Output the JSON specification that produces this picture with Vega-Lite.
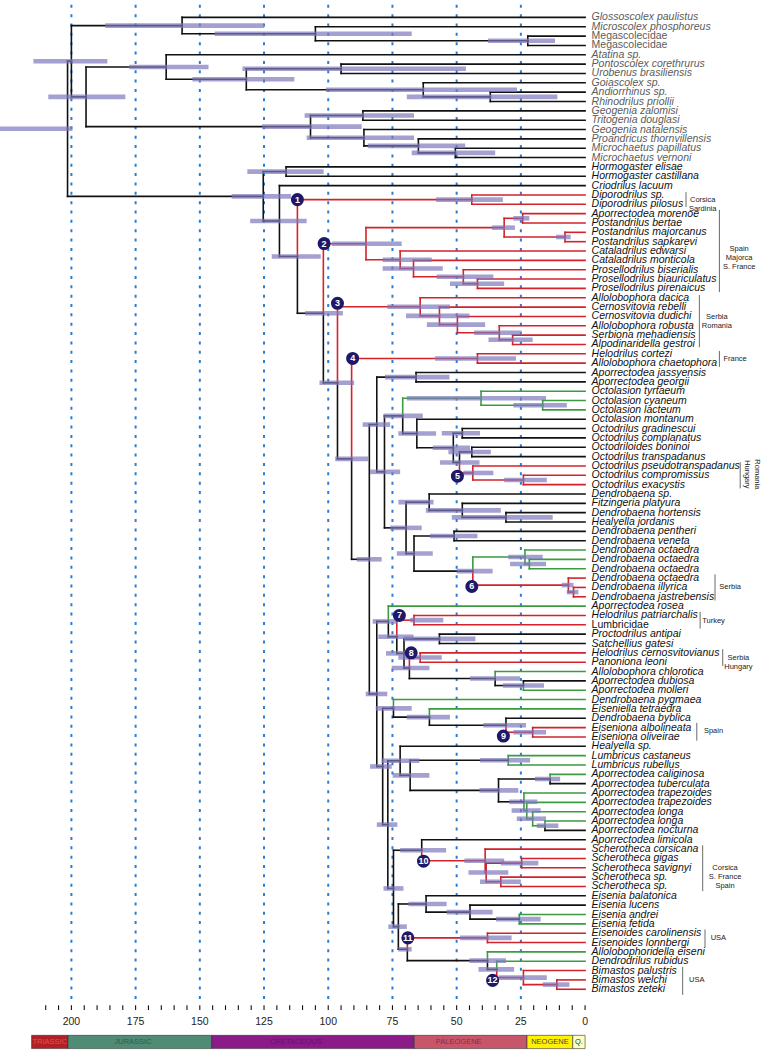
{
"$schema": "https://vega.github.io/schema/vega-lite/v6.json",
"width": 761, "height": 1050,
"autosize": {"type": "none"},
"padding": 0,
"background": "#ffffff",
"config": {"view": {"stroke": null}, "text": {"font": "Liberation Sans"}},
"resolve": {"scale": {"color": "independent"}},
"datasets": {
"tree": [
{"n":"R","t":201.5,"y":12.92,"lo":228,"hi":199.6},
{"n":"U","p":"R","t":200,"y":5.6875,"c":"k","lo":214.8,"hi":186},
{"n":"A","p":"U","t":156.9,"y":1.875,"c":"k","lo":186.8,"hi":124.9},
{"n":"B","p":"A","t":105,"y":2.75,"c":"k","lo":144.2,"hi":67.5},
{"n":"C","p":"B","t":22.3,"y":3.5,"c":"k","lo":37.8,"hi":11.7},
{"n":"V","p":"U","t":194.3,"y":9.5,"c":"k","lo":209,"hi":179},
{"n":"W","p":"V","t":163.1,"y":6.3125,"c":"k","lo":177.5,"hi":146.6},
{"n":"X1","p":"W","t":131.9,"y":7.625,"c":"k","lo":152.9,"hi":113.2},
{"n":"PU","p":"X1","t":95,"y":6.5,"c":"k","lo":133.4,"hi":46.4},
{"n":"GO","p":"X1","t":63,"y":8.75,"c":"k","lo":100.9,"hi":26.5},
{"n":"AR","p":"GO","t":36.9,"y":9.5,"c":"k","lo":69.4,"hi":10.8},
{"n":"G","p":"V","t":106.9,"y":12.6875,"c":"k","lo":125.8,"hi":87},
{"n":"G1","p":"G","t":86.5,"y":11.5,"c":"k","lo":109.2,"hi":66.6},
{"n":"G2","p":"G","t":86.1,"y":13.875,"c":"k","lo":108.4,"hi":66.6},
{"n":"G3","p":"G2","t":64.9,"y":14.75,"c":"k","lo":84.6,"hi":46.7},
{"n":"G4","p":"G3","t":50.5,"y":15.5,"c":"k","lo":67.5,"hi":35},
{"n":"H0","p":"R","t":125.3,"y":20.15,"c":"k","lo":137.6,"hi":114.5},
{"n":"HG","p":"H0","t":116.4,"y":17.5,"c":"k","lo":131.5,"hi":101.8},
{"n":"I0","p":"H0","t":119,"y":22.79,"c":"k","lo":130.4,"hi":108.4},
{"n":"I1","p":"I0","t":112,"y":26.58,"c":"k","lo":122,"hi":102.9},
{"n":"D1n","p":"I1","t":44.1,"y":20.5,"c":"r","lo":58,"hi":32},
{"n":"I2","p":"I1","t":101.9,"y":32.66,"c":"k","lo":109,"hi":94.3},
{"n":"C2","p":"I2","t":85.3,"y":25.22,"c":"r","lo":98.6,"hi":71.4},
{"n":"P0","p":"C2","t":31.5,"y":23.5,"c":"r","lo":36.3,"hi":27.3},
{"n":"P01","p":"P0","t":24.3,"y":22.5,"c":"r","lo":27.9,"hi":21.7},
{"n":"P02","p":"P0","t":7.8,"y":24.5,"c":"r","lo":11.3,"hi":5.6},
{"n":"CP","p":"C2","t":72,"y":26.94,"c":"r","lo":78.8,"hi":59.7},
{"n":"CP2","p":"CP","t":66.8,"y":27.875,"c":"r","lo":78.8,"hi":55.4},
{"n":"PR","p":"CP2","t":47.4,"y":28.75,"c":"r","lo":57.8,"hi":35.7},
{"n":"PR2","p":"PR","t":41.9,"y":29.5,"c":"r","lo":52.6,"hi":31.5},
{"n":"I3","p":"I2","t":96.4,"y":40.1,"c":"k","lo":103.4,"hi":89.9},
{"n":"C3","p":"I3","t":64.2,"y":31.97,"c":"r","lo":77,"hi":52.6},
{"n":"C3a","p":"C3","t":56.7,"y":32.94,"c":"r","lo":69.7,"hi":45},
{"n":"C3b","p":"C3a","t":49.7,"y":33.875,"c":"r","lo":61.6,"hi":38.9},
{"n":"C3c","p":"C3b","t":33.4,"y":34.75,"c":"r","lo":43.2,"hi":24.7},
{"n":"C3d","p":"C3c","t":28.2,"y":35.5,"c":"r","lo":37.6,"hi":20.4},
{"n":"I4","p":"I3","t":90.9,"y":48.24,"c":"k","lo":97.3,"hi":84.4},
{"n":"C4","p":"I4","t":41.9,"y":37.5,"c":"r","lo":58.4,"hi":26.9},
{"n":"I5","p":"I4","t":84,"y":58.99,"c":"k","lo":88.9,"hi":79.2},
{"n":"K1","p":"I5","t":81.1,"y":44.57,"c":"k","lo":86.6,"hi":75.9},
{"n":"J","p":"K1","t":65.8,"y":39.5,"c":"k","lo":77.9,"hi":52.8},
{"n":"N0","p":"K1","t":78.1,"y":49.63,"c":"k","lo":83.7,"hi":72},
{"n":"M1","p":"N0","t":71,"y":43.64,"c":"k","lo":78.5,"hi":63.2},
{"n":"OT","p":"M1","t":40.5,"y":41.75,"c":"g","lo":69.4,"hi":15.2},
{"n":"OT2","p":"OT","t":16.5,"y":42.5,"c":"g","lo":27.9,"hi":7.1},
{"n":"M2","p":"M1","t":65.5,"y":45.53,"c":"k","lo":72.7,"hi":58},
{"n":"M3","p":"M2","t":51.3,"y":47.06,"c":"k","lo":59.3,"hi":44.8},
{"n":"OG","p":"M3","t":47.8,"y":45.5,"c":"k","lo":55.8,"hi":40.9},
{"n":"M4","p":"M3","t":48.9,"y":48.625,"c":"k","lo":56.5,"hi":41.1},
{"n":"P1","p":"M4","t":44.1,"y":47.5,"c":"k","lo":53.2,"hi":36.7},
{"n":"R5","p":"M4","t":43.7,"y":49.75,"c":"r","lo":47.4,"hi":35.7},
{"n":"R5b","p":"R5","t":24,"y":50.5,"c":"r","lo":31.5,"hi":14.9},
{"n":"N1","p":"N0","t":69.7,"y":55.625,"c":"k","lo":75.9,"hi":63.6},
{"n":"D1","p":"N1","t":60.7,"y":52.875,"c":"k","lo":72.7,"hi":59},
{"n":"DF","p":"D1","t":47.8,"y":53.75,"c":"k","lo":62,"hi":32.8},
{"n":"DH","p":"DF","t":30.8,"y":54.5,"c":"k","lo":51.9,"hi":12.6},
{"n":"D2","p":"N1","t":66.6,"y":58.375,"c":"k","lo":73.3,"hi":59.3},
{"n":"DP","p":"D2","t":51,"y":56.5,"c":"k","lo":60.4,"hi":41.9},
{"n":"O","p":"D2","t":43.7,"y":60.25,"c":"k","lo":50,"hi":36},
{"n":"O8","p":"O","t":23.4,"y":58.75,"c":"g","lo":29.9,"hi":16.5},
{"n":"O8b","p":"O8","t":21.7,"y":59.5,"c":"g","lo":29.2,"hi":15.2},
{"n":"C6","p":"O","t":6.5,"y":61.75,"c":"r","lo":9.1,"hi":4.5},
{"n":"C6b","p":"C6","t":4.5,"y":62.5,"c":"r","lo":7.1,"hi":2.6},
{"n":"V1","p":"I5","t":81.1,"y":73.4,"c":"k","lo":85.4,"hi":77},
{"n":"Q1","p":"V1","t":76.6,"y":65.64,"c":"k","lo":82.7,"hi":73.3},
{"n":"Q2","p":"Q1","t":73.3,"y":67.28,"c":"k","lo":80.5,"hi":66.8},
{"n":"C7","p":"Q2","t":66.6,"y":65.5,"c":"r","lo":68.1,"hi":55.2},
{"n":"N462","p":"Q2","t":70.5,"y":69.06,"c":"k","lo":77.5,"hi":66.8},
{"n":"PS","p":"N462","t":56.7,"y":67.5,"c":"k","lo":70.7,"hi":42.7},
{"n":"C8","p":"N462","t":68.4,"y":70.625,"c":"k","lo":75.3,"hi":60.6},
{"n":"C8n","p":"C8","t":64.2,"y":69.5,"c":"r","lo":72.7,"hi":55.8},
{"n":"CH","p":"C8","t":35,"y":71.75,"c":"k","lo":44.8,"hi":25.3},
{"n":"DM","p":"CH","t":24,"y":72.5,"c":"k","lo":32,"hi":16},
{"n":"V2","p":"V1","t":78.8,"y":81.16,"c":"k","lo":83.7,"hi":75.3},
{"n":"S1","p":"V2","t":74.6,"y":74.94,"c":"k","lo":81.5,"hi":67.5},
{"n":"S2","p":"S1","t":60.6,"y":75.875,"c":"k","lo":69.4,"hi":52.6},
{"n":"S3","p":"S2","t":30.8,"y":76.75,"c":"k","lo":39.6,"hi":23},
{"n":"C9","p":"S3","t":20.4,"y":77.5,"c":"r","lo":27.9,"hi":15.2},
{"n":"V3","p":"V2","t":76.8,"y":87.38,"c":"k","lo":81.1,"hi":73.1},
{"n":"U1","p":"V3","t":72,"y":80.55,"c":"k","lo":79.2,"hi":64.5},
{"n":"U2","p":"U1","t":68.1,"y":82.11,"c":"k","lo":74.9,"hi":60.6},
{"n":"LU","p":"U2","t":29.9,"y":80.5,"c":"k","lo":40.9,"hi":21.4},
{"n":"Z0","p":"U2","t":33.7,"y":83.72,"c":"k","lo":41.1,"hi":26},
{"n":"CA","p":"Z0","t":13.6,"y":82.5,"c":"k","lo":19.5,"hi":9.7},
{"n":"Z1","p":"Z0","t":23.8,"y":84.94,"c":"k","lo":29.5,"hi":18.6},
{"n":"Z2","p":"Z1","t":22.7,"y":85.875,"c":"g","lo":28.6,"hi":17.3},
{"n":"Z3","p":"Z2","t":20.4,"y":86.75,"c":"g","lo":26.6,"hi":15.2},
{"n":"Z4","p":"Z3","t":15.6,"y":87.5,"c":"g","lo":18.8,"hi":10.4},
{"n":"V4","p":"V3","t":74.6,"y":94.21,"c":"k","lo":78.5,"hi":70.7},
{"n":"L","p":"V4","t":63.6,"y":90.125,"c":"k","lo":72,"hi":54.1},
{"n":"SC1","p":"L","t":38.9,"y":91.25,"c":"r","lo":47,"hi":31.5},
{"n":"SC2","p":"SC1","t":38.5,"y":92.5,"c":"r","lo":45.4,"hi":29.9},
{"n":"SCa","p":"SC2","t":24.7,"y":91.5,"c":"r","lo":32.8,"hi":18.2},
{"n":"SCb","p":"SC2","t":32.8,"y":93.5,"c":"r","lo":40.9,"hi":25},
{"n":"E0","p":"V4","t":72.7,"y":98.3,"c":"k","lo":76.6,"hi":69.4},
{"n":"E1","p":"E0","t":61.9,"y":95.875,"c":"k","lo":68.8,"hi":53.9},
{"n":"E2","p":"E1","t":44.8,"y":96.75,"c":"k","lo":53.9,"hi":36},
{"n":"EAF","p":"E2","t":25.6,"y":97.5,"c":"k","lo":34.7,"hi":17.3},
{"n":"F0","p":"E0","t":69.2,"y":100.72,"c":"k","lo":72.7,"hi":67.5},
{"n":"C11","p":"F0","t":38,"y":99.5,"c":"r","lo":48.7,"hi":28.6},
{"n":"F1","p":"F0","t":38,"y":101.94,"c":"k","lo":45,"hi":30.8},
{"n":"F2","p":"F1","t":34.4,"y":102.875,"c":"k","lo":41.5,"hi":27.6},
{"n":"B1","p":"F2","t":24,"y":103.75,"c":"r","lo":33.7,"hi":14.9},
{"n":"B2","p":"B1","t":11,"y":104.5,"c":"r","lo":16.5,"hi":6.1},
{"n":"t1","p":"A","t":0,"y":1,"c":"k","lab":"Glossoscolex paulistus","s":"gi"},
{"n":"t2","p":"B","t":0,"y":2,"c":"k","lab":"Microscolex phosphoreus","s":"gi"},
{"n":"t3","p":"C","t":0,"y":3,"c":"k","lab":"Megascolecidae","s":"gn"},
{"n":"t4","p":"C","t":0,"y":4,"c":"k","lab":"Megascolecidae","s":"gn"},
{"n":"t5","p":"W","t":0,"y":5,"c":"k","lab":"Atatina sp.","s":"gi"},
{"n":"t6","p":"PU","t":0,"y":6,"c":"k","lab":"Pontoscolex corethrurus","s":"gi"},
{"n":"t7","p":"PU","t":0,"y":7,"c":"k","lab":"Urobenus brasiliensis","s":"gi"},
{"n":"t8","p":"GO","t":0,"y":8,"c":"k","lab":"Goiascolex sp.","s":"gi"},
{"n":"t9","p":"AR","t":0,"y":9,"c":"k","lab":"Andiorrhinus sp.","s":"gi"},
{"n":"t10","p":"AR","t":0,"y":10,"c":"k","lab":"Rhinodrilus priollii","s":"gi"},
{"n":"t11","p":"G1","t":0,"y":11,"c":"k","lab":"Geogenia zalomisi","s":"gi"},
{"n":"t12","p":"G1","t":0,"y":12,"c":"k","lab":"Tritogenia douglasi","s":"gi"},
{"n":"t13","p":"G2","t":0,"y":13,"c":"k","lab":"Geogenia natalensis","s":"gi"},
{"n":"t14","p":"G3","t":0,"y":14,"c":"k","lab":"Proandricus thornvillensis","s":"gi"},
{"n":"t15","p":"G4","t":0,"y":15,"c":"k","lab":"Microchaetus papillatus","s":"gi"},
{"n":"t16","p":"G4","t":0,"y":16,"c":"k","lab":"Microchaetus vernoni","s":"gi"},
{"n":"t17","p":"HG","t":0,"y":17,"c":"k","lab":"Hormogaster elisae","s":"i"},
{"n":"t18","p":"HG","t":0,"y":18,"c":"k","lab":"Hormogaster castillana","s":"i"},
{"n":"t19","p":"I0","t":0,"y":19,"c":"k","lab":"Criodrilus lacuum","s":"i"},
{"n":"t20","p":"D1n","t":0,"y":20,"c":"r","lab":"Diporodrilus sp.","s":"i"},
{"n":"t21","p":"D1n","t":0,"y":21,"c":"r","lab":"Diporodrilus pilosus","s":"i"},
{"n":"t22","p":"P01","t":0,"y":22,"c":"r","lab":"Aporrectodea morenoe","s":"i"},
{"n":"t23","p":"P01","t":0,"y":23,"c":"r","lab":"Postandrilus bertae","s":"i"},
{"n":"t24","p":"P02","t":0,"y":24,"c":"r","lab":"Postandrilus majorcanus","s":"i"},
{"n":"t25","p":"P02","t":0,"y":25,"c":"r","lab":"Postandrilus sapkarevi","s":"i"},
{"n":"t26","p":"CP","t":0,"y":26,"c":"r","lab":"Cataladrilus edwarsi","s":"i"},
{"n":"t27","p":"CP2","t":0,"y":27,"c":"r","lab":"Cataladrilus monticola","s":"i"},
{"n":"t28","p":"PR","t":0,"y":28,"c":"r","lab":"Prosellodrilus biserialis","s":"i"},
{"n":"t29","p":"PR2","t":0,"y":29,"c":"r","lab":"Prosellodrilus biauriculatus","s":"i"},
{"n":"t30","p":"PR2","t":0,"y":30,"c":"r","lab":"Prosellodrilus pirenaicus","s":"i"},
{"n":"t31","p":"C3","t":0,"y":31,"c":"r","lab":"Allolobophora dacica","s":"i"},
{"n":"t32","p":"C3a","t":0,"y":32,"c":"r","lab":"Cernosvitovia rebelli","s":"i"},
{"n":"t33","p":"C3b","t":0,"y":33,"c":"r","lab":"Cernosvitovia dudichi","s":"i"},
{"n":"t34","p":"C3c","t":0,"y":34,"c":"r","lab":"Allolobophora robusta","s":"i"},
{"n":"t35","p":"C3d","t":0,"y":35,"c":"r","lab":"Serbiona mehadiensis","s":"i"},
{"n":"t36","p":"C3d","t":0,"y":36,"c":"r","lab":"Alpodinaridella gestroi","s":"i"},
{"n":"t37","p":"C4","t":0,"y":37,"c":"r","lab":"Helodrilus cortezi","s":"i"},
{"n":"t38","p":"C4","t":0,"y":38,"c":"r","lab":"Allolobophora chaetophora","s":"i"},
{"n":"t39","p":"J","t":0,"y":39,"c":"k","lab":"Aporrectodea jassyensis","s":"i"},
{"n":"t40","p":"J","t":0,"y":40,"c":"k","lab":"Aporrectodea georgii","s":"i"},
{"n":"t41","p":"OT","t":0,"y":41,"c":"g","lab":"Octolasion tyrtaeum","s":"i"},
{"n":"t42","p":"OT2","t":0,"y":42,"c":"g","lab":"Octolasion cyaneum","s":"i"},
{"n":"t43","p":"OT2","t":0,"y":43,"c":"g","lab":"Octolasion lacteum","s":"i"},
{"n":"t44","p":"M2","t":0,"y":44,"c":"k","lab":"Octolasion montanum","s":"i"},
{"n":"t45","p":"OG","t":0,"y":45,"c":"k","lab":"Octodrilus gradinescui","s":"i"},
{"n":"t46","p":"OG","t":0,"y":46,"c":"k","lab":"Octodrilus complanatus","s":"i"},
{"n":"t47","p":"P1","t":0,"y":47,"c":"k","lab":"Octodriloides boninoi","s":"i"},
{"n":"t48","p":"P1","t":0,"y":48,"c":"k","lab":"Octodrilus transpadanus","s":"i"},
{"n":"t49","p":"R5","t":0,"y":49,"c":"r","lab":"Octodrilus pseudotranspadanus","s":"i"},
{"n":"t50","p":"R5b","t":0,"y":50,"c":"r","lab":"Octodrilus compromissus","s":"i"},
{"n":"t51","p":"R5b","t":0,"y":51,"c":"r","lab":"Octodrilus exacystis","s":"i"},
{"n":"t52","p":"D1","t":0,"y":52,"c":"k","lab":"Dendrobaena sp.","s":"i"},
{"n":"t53","p":"DF","t":0,"y":53,"c":"k","lab":"Fitzingeria platyura","s":"i"},
{"n":"t54","p":"DH","t":0,"y":54,"c":"k","lab":"Dendrobaena hortensis","s":"i"},
{"n":"t55","p":"DH","t":0,"y":55,"c":"k","lab":"Healyella jordanis","s":"i"},
{"n":"t56","p":"DP","t":0,"y":56,"c":"k","lab":"Dendrobaena pentheri","s":"i"},
{"n":"t57","p":"DP","t":0,"y":57,"c":"k","lab":"Dendrobaena veneta","s":"i"},
{"n":"t58","p":"O8","t":0,"y":58,"c":"g","lab":"Dendrobaena octaedra","s":"i"},
{"n":"t59","p":"O8b","t":0,"y":59,"c":"g","lab":"Dendrobaena octaedra","s":"i"},
{"n":"t60","p":"O8b","t":0,"y":60,"c":"g","lab":"Dendrobaena octaedra","s":"i"},
{"n":"t61","p":"C6","t":0,"y":61,"c":"r","lab":"Dendrobaena octaedra","s":"i"},
{"n":"t62","p":"C6b","t":0,"y":62,"c":"r","lab":"Dendrobaena illyrica","s":"i"},
{"n":"t63","p":"C6b","t":0,"y":63,"c":"r","lab":"Dendrobaena jastrebensis","s":"i"},
{"n":"t64","p":"Q1","t":0,"y":64,"c":"g","lab":"Aporrectodea rosea","s":"i"},
{"n":"t65","p":"C7","t":0,"y":65,"c":"r","lab":"Helodrilus patriarchalis","s":"i"},
{"n":"t66","p":"C7","t":0,"y":66,"c":"r","lab":"Lumbricidae","s":"n"},
{"n":"t67","p":"PS","t":0,"y":67,"c":"k","lab":"Proctodrilus antipai","s":"i"},
{"n":"t68","p":"PS","t":0,"y":68,"c":"k","lab":"Satchellius gatesi","s":"i"},
{"n":"t69","p":"C8n","t":0,"y":69,"c":"r","lab":"Helodrilus cernosvitovianus","s":"i"},
{"n":"t70","p":"C8n","t":0,"y":70,"c":"r","lab":"Panoniona leoni","s":"i"},
{"n":"t71","p":"CH","t":0,"y":71,"c":"g","lab":"Allolobophora chlorotica","s":"i"},
{"n":"t72","p":"DM","t":0,"y":72,"c":"k","lab":"Aporrectodea dubiosa","s":"i"},
{"n":"t73","p":"DM","t":0,"y":73,"c":"g","lab":"Aporrectodea molleri","s":"i"},
{"n":"t74","p":"S1","t":0,"y":74,"c":"g","lab":"Dendrobaena pygmaea","s":"i"},
{"n":"t75","p":"S2","t":0,"y":75,"c":"g","lab":"Eiseniella tetraedra","s":"i"},
{"n":"t76","p":"S3","t":0,"y":76,"c":"k","lab":"Dendrobaena byblica","s":"i"},
{"n":"t77","p":"C9","t":0,"y":77,"c":"r","lab":"Eiseniona albolineata","s":"i"},
{"n":"t78","p":"C9","t":0,"y":78,"c":"r","lab":"Eiseniona oliveirae","s":"i"},
{"n":"t79","p":"U1","t":0,"y":79,"c":"k","lab":"Healyella sp.","s":"i"},
{"n":"t80","p":"LU","t":0,"y":80,"c":"g","lab":"Lumbricus castaneus","s":"i"},
{"n":"t81","p":"LU","t":0,"y":81,"c":"g","lab":"Lumbricus rubellus","s":"i"},
{"n":"t82","p":"CA","t":0,"y":82,"c":"g","lab":"Aporrectodea caliginosa","s":"i"},
{"n":"t83","p":"CA","t":0,"y":83,"c":"k","lab":"Aporrectodea tuberculata","s":"i"},
{"n":"t84","p":"Z1","t":0,"y":84,"c":"g","lab":"Aporrectodea trapezoides","s":"i"},
{"n":"t85","p":"Z2","t":0,"y":85,"c":"g","lab":"Aporrectodea trapezoides","s":"i"},
{"n":"t86","p":"Z3","t":0,"y":86,"c":"g","lab":"Aporrectodea longa","s":"i"},
{"n":"t87","p":"Z4","t":0,"y":87,"c":"g","lab":"Aporrectodea longa","s":"i"},
{"n":"t88","p":"Z4","t":0,"y":88,"c":"k","lab":"Aporrectodea nocturna","s":"i"},
{"n":"t89","p":"L","t":0,"y":89,"c":"k","lab":"Aporrectodea limicola","s":"i"},
{"n":"t90","p":"SC1","t":0,"y":90,"c":"r","lab":"Scherotheca corsicana","s":"i"},
{"n":"t91","p":"SCa","t":0,"y":91,"c":"r","lab":"Scherotheca gigas","s":"i"},
{"n":"t92","p":"SCa","t":0,"y":92,"c":"r","lab":"Scherotheca savignyi","s":"i"},
{"n":"t93","p":"SCb","t":0,"y":93,"c":"r","lab":"Scherotheca sp.","s":"i"},
{"n":"t94","p":"SCb","t":0,"y":94,"c":"r","lab":"Scherotheca sp.","s":"i"},
{"n":"t95","p":"E1","t":0,"y":95,"c":"k","lab":"Eisenia balatonica","s":"i"},
{"n":"t96","p":"E2","t":0,"y":96,"c":"k","lab":"Eisenia lucens","s":"i"},
{"n":"t97","p":"EAF","t":0,"y":97,"c":"g","lab":"Eisenia andrei","s":"i"},
{"n":"t98","p":"EAF","t":0,"y":98,"c":"g","lab":"Eisenia fetida","s":"i"},
{"n":"t99","p":"C11","t":0,"y":99,"c":"r","lab":"Eisenoides carolinensis","s":"i"},
{"n":"t100","p":"C11","t":0,"y":100,"c":"r","lab":"Eisenoides lonnbergi","s":"i"},
{"n":"t101","p":"F1","t":0,"y":101,"c":"g","lab":"Allolobophoridella eiseni","s":"i"},
{"n":"t102","p":"F2","t":0,"y":102,"c":"g","lab":"Dendrodrilus rubidus","s":"i"},
{"n":"t103","p":"B1","t":0,"y":103,"c":"r","lab":"Bimastos palustris","s":"i"},
{"n":"t104","p":"B2","t":0,"y":104,"c":"r","lab":"Bimastos welchi","s":"i"},
{"n":"t105","p":"B2","t":0,"y":105,"c":"r","lab":"Bimastos zeteki","s":"i"}
],
"circles": [
{"num":"1","t":112,"k":20.5},{"num":"2","t":101.6,"k":25.2},{"num":"3","t":96.4,"k":31.6},
{"num":"4","t":90.5,"k":37.5},{"num":"5","t":49.7,"k":50.1},{"num":"6","t":44.1,"k":61.9},
{"num":"7","t":72.3,"k":65.0},{"num":"8","t":67.7,"k":69.0},{"num":"9","t":31.8,"k":77.9},
{"num":"10","t":62.9,"k":91.3},{"num":"11","t":69,"k":99.5},{"num":"12","t":36,"k":104.05}
],
"brackets": [
{"t":-39.3,"k1":19.7,"k2":21.3},{"t":-52.3,"k1":21.6,"k2":30.4},{"t":-44.5,"k1":30.7,"k2":36.3},
{"t":-52.3,"k1":36.7,"k2":38.4},{"t":-60.4,"k1":48.6,"k2":51.4},{"t":-50.6,"k1":60.6,"k2":63.4},
{"t":-44.8,"k1":64.6,"k2":66.4},{"t":-53.6,"k1":68.6,"k2":70.4},{"t":-43.5,"k1":76.5,"k2":78.4},
{"t":-45.8,"k1":89.6,"k2":94.5},{"t":-46.7,"k1":98.6,"k2":100.5},{"t":-38,"k1":102.6,"k2":105.6}
],
"regions": [
{"txt":"Corsica\nSardinia","t":-45.8,"k":20.5},
{"txt":"Spain\nMajorca\nS. France","t":-60,"k":25.8},
{"txt":"Serbia\nRomania","t":-51.3,"k":33.1},
{"txt":"France","t":-58.4,"k":37.6},
{"txt":"Serbia","t":-56.5,"k":62},
{"txt":"Turkey","t":-50,"k":65.6},
{"txt":"Serbia\nHungary","t":-59.7,"k":69.5},
{"txt":"Spain","t":-50,"k":77.4},
{"txt":"Corsica\nS. France\nSpain","t":-54.5,"k":92},
{"txt":"USA","t":-51.9,"k":99.5},
{"txt":"USA","t":-43.5,"k":104}
],
"rotregions": [{"txt":"Romania","t":-66.9,"k":49.9},{"txt":"Hungary","t":-63.0,"k":49.9}],
"grid": [{"t":200},{"t":175},{"t":150},{"t":125},{"t":100},{"t":75},{"t":50},{"t":25}],
"ticks": [{"t":210},{"t":205},{"t":200},{"t":195},{"t":190},{"t":185},{"t":180},{"t":175},{"t":170},{"t":165},{"t":160},{"t":155},{"t":150},{"t":145},{"t":140},{"t":135},{"t":130},{"t":125},{"t":120},{"t":115},{"t":110},{"t":105},{"t":100},{"t":95},{"t":90},{"t":85},{"t":80},{"t":75},{"t":70},{"t":65},{"t":60},{"t":55},{"t":50},{"t":45},{"t":40},{"t":35},{"t":30},{"t":25},{"t":20},{"t":15},{"t":10},{"t":5},{"t":0}],
"ticklabels": [{"t":200,"lab":"200"},{"t":175,"lab":"175"},{"t":150,"lab":"150"},{"t":125,"lab":"125"},{"t":100,"lab":"100"},{"t":75,"lab":"75"},{"t":50,"lab":"50"},{"t":25,"lab":"25"},{"t":0,"lab":"0"}],
"eras": [
{"era":"TRIASSIC","a":215.5,"b":201.3,"m":208.4},
{"era":"JURASSIC","a":201.3,"b":145.4,"m":176},
{"era":"CRETACEOUS","a":145.4,"b":66.5,"m":112.6},
{"era":"PALEOGENE","a":66.5,"b":22.6,"m":49.2},
{"era":"NEOGENE","a":22.6,"b":4.8,"m":13.7},
{"era":"Q.","a":4.8,"b":0,"m":2.4}
]
},
"layer": [
{
"mark": {"type": "rect", "fill": null, "stroke": "#2f9a3c", "strokeWidth": 2.4, "strokeDash": [2.4, 5], "cornerRadius": 9},
"encoding": {
"x": {"datum": 220.8, "type": "quantitative", "scale": {"domain": [227.8, -68.5], "nice": false, "zero": false}, "axis": null},
"x2": {"datum": -66.3},
"y": {"datum": -0.65, "type": "quantitative", "scale": {"domain": [-0.862, 111.5], "nice": false, "zero": false, "reverse": true}, "axis": null},
"y2": {"datum": 19.38}
}
},
{
"mark": {"type": "text", "text": "outgroup", "font": "Liberation Sans", "fontWeight": "bold", "fontSize": 21, "color": "#2f9a3c", "align": "center", "baseline": "middle"},
"encoding": {
"x": {"datum": 171.3, "type": "quantitative", "axis": null},
"y": {"datum": 17.6, "type": "quantitative", "axis": null}
}
},
{
"data": {"name": "grid"},
"mark": {"type": "rule", "color": "#2a7dd1", "strokeWidth": 2, "strokeDash": [3, 6.35]},
"encoding": {
"x": {"field": "t", "type": "quantitative", "axis": null},
"y": {"datum": -0.35, "type": "quantitative", "axis": null},
"y2": {"datum": 106.3}
}
},
{
"data": {"name": "tree"},
"transform": [
{"lookup": "p", "from": {"data": {"name": "tree"}, "key": "n", "fields": ["t", "y"]}, "as": ["pt", "py"]},
{"filter": "isValid(datum.pt)"}
],
"mark": {"type": "rule", "strokeWidth": 1.6, "strokeCap": "square"},
"encoding": {
"x": {"field": "pt", "type": "quantitative", "axis": null},
"y": {"field": "py", "type": "quantitative", "axis": null},
"y2": {"field": "y"},
"color": {"field": "c", "type": "nominal", "scale": {"domain": ["k", "r", "g"], "range": ["#111111", "#d3222a", "#3a9b3f"]}, "legend": null}
}
},
{
"data": {"name": "tree"},
"transform": [
{"lookup": "p", "from": {"data": {"name": "tree"}, "key": "n", "fields": ["t", "y"]}, "as": ["pt", "py"]},
{"filter": "isValid(datum.pt)"}
],
"mark": {"type": "rule", "strokeWidth": 1.6, "strokeCap": "square"},
"encoding": {
"x": {"field": "pt", "type": "quantitative", "axis": null},
"x2": {"field": "t"},
"y": {"field": "y", "type": "quantitative", "axis": null},
"color": {"field": "c", "type": "nominal", "scale": {"domain": ["k", "r", "g"], "range": ["#111111", "#d3222a", "#3a9b3f"]}, "legend": null}
}
},
{
"data": {"name": "tree"},
"transform": [{"filter": "isValid(datum.lo)"}],
"mark": {"type": "rule", "strokeWidth": 4.6, "color": "#7d79bd", "opacity": 0.7},
"encoding": {
"x": {"field": "lo", "type": "quantitative", "axis": null},
"x2": {"field": "hi"},
"y": {"field": "y", "type": "quantitative", "axis": null}
}
},
{
"data": {"name": "circles"},
"mark": {"type": "point", "shape": "circle", "filled": true, "size": 170, "color": "#1e1868", "opacity": 1},
"encoding": {
"x": {"field": "t", "type": "quantitative", "axis": null},
"y": {"field": "k", "type": "quantitative", "axis": null}
}
},
{
"data": {"name": "circles"},
"mark": {"type": "text", "font": "Liberation Sans", "fontSize": 9, "fontWeight": "bold", "color": "#ffffff", "align": "center", "baseline": "middle"},
"encoding": {
"x": {"field": "t", "type": "quantitative", "axis": null},
"y": {"field": "k", "type": "quantitative", "axis": null},
"text": {"field": "num"}
}
},
{
"data": {"name": "tree"},
"transform": [{"filter": "isValid(datum.lab) && (datum.s == 'i' || datum.s == 'gi')"}],
"mark": {"type": "text", "font": "Liberation Sans", "fontSize": 10.5, "fontStyle": "italic", "align": "left", "baseline": "middle", "dx": 6.5},
"encoding": {
"x": {"field": "t", "type": "quantitative", "axis": null},
"y": {"field": "y", "type": "quantitative", "axis": null},
"text": {"field": "lab"},
"color": {"condition": {"test": "datum.s == 'gi'", "value": "#5c5c5c"}, "value": "#111111"}
}
},
{
"data": {"name": "tree"},
"transform": [{"filter": "isValid(datum.lab) && (datum.s == 'n' || datum.s == 'gn')"}],
"mark": {"type": "text", "font": "Liberation Sans", "fontSize": 10.5, "align": "left", "baseline": "middle", "dx": 6.5},
"encoding": {
"x": {"field": "t", "type": "quantitative", "axis": null},
"y": {"field": "y", "type": "quantitative", "axis": null},
"text": {"field": "lab"},
"color": {"condition": {"test": "datum.s == 'gn'", "value": "#5c5c5c"}, "value": "#111111"}
}
},
{
"data": {"name": "brackets"},
"mark": {"type": "rule", "color": "#6b6b6b", "strokeWidth": 1},
"encoding": {
"x": {"field": "t", "type": "quantitative", "axis": null},
"y": {"field": "k1", "type": "quantitative", "axis": null},
"y2": {"field": "k2"}
}
},
{
"data": {"name": "regions"},
"mark": {"type": "text", "font": "Liberation Sans", "fontSize": 7.5, "color": "#222222", "align": "center", "baseline": "middle", "lineBreak": "\n", "lineHeight": 9},
"encoding": {
"x": {"field": "t", "type": "quantitative", "axis": null},
"y": {"field": "k", "type": "quantitative", "axis": null},
"text": {"field": "txt"}
}
},
{
"data": {"name": "rotregions"},
"mark": {"type": "text", "font": "Liberation Sans", "fontSize": 7.5, "color": "#222222", "align": "center", "baseline": "middle", "angle": 90},
"encoding": {
"x": {"field": "t", "type": "quantitative", "axis": null},
"y": {"field": "k", "type": "quantitative", "axis": null},
"text": {"field": "txt"}
}
},
{
"mark": {"type": "rule", "color": "#111111", "strokeWidth": 1.2},
"encoding": {
"x": {"datum": 211.4, "type": "quantitative", "axis": null},
"x2": {"datum": 0},
"y": {"datum": 106.72, "type": "quantitative", "axis": null}
}
},
{
"data": {"name": "ticks"},
"mark": {"type": "rule", "color": "#111111", "strokeWidth": 1.1},
"encoding": {
"x": {"field": "t", "type": "quantitative", "axis": null},
"y": {"datum": 106.72, "type": "quantitative", "axis": null},
"y2": {"datum": 107.22}
}
},
{
"data": {"name": "ticklabels"},
"mark": {"type": "text", "font": "Liberation Sans", "fontSize": 10.5, "color": "#222222", "align": "center", "baseline": "middle"},
"encoding": {
"x": {"field": "t", "type": "quantitative", "axis": null},
"y": {"datum": 108.47, "type": "quantitative", "axis": null},
"text": {"field": "lab"}
}
},
{
"mark": {"type": "text", "text": "My", "font": "Liberation Sans", "fontSize": 10.5, "color": "#222222", "align": "left", "baseline": "middle"},
"encoding": {
"x": {"datum": -3.4, "type": "quantitative", "axis": null},
"y": {"datum": 108.47, "type": "quantitative", "axis": null}
}
},
{
"data": {"name": "eras"},
"mark": {"type": "rect", "stroke": "#333333", "strokeWidth": 0.6},
"encoding": {
"x": {"field": "a", "type": "quantitative", "axis": null},
"x2": {"field": "b"},
"y": {"datum": 109.93, "type": "quantitative", "axis": null},
"y2": {"datum": 111.35},
"fill": {"field": "era", "type": "nominal", "legend": null, "scale": {"domain": ["TRIASSIC", "JURASSIC", "CRETACEOUS", "PALEOGENE", "NEOGENE", "Q."], "range": ["#b21f27", "#4f8b75", "#8a1b88", "#c8566a", "#fff100", "#ffffbe"]}}
}
},
{
"data": {"name": "eras"},
"mark": {"type": "text", "font": "Liberation Sans", "fontSize": 7.5, "align": "center", "baseline": "middle"},
"encoding": {
"x": {"field": "m", "type": "quantitative", "axis": null},
"y": {"datum": 110.64, "type": "quantitative", "axis": null},
"text": {"field": "era"},
"color": {"field": "era", "type": "nominal", "legend": null, "scale": {"domain": ["TRIASSIC", "JURASSIC", "CRETACEOUS", "PALEOGENE", "NEOGENE", "Q."], "range": ["#e8504a", "#2d5f4e", "#6c0f6c", "#8f2c40", "#444444", "#333333"]}}
}
}
]
}
